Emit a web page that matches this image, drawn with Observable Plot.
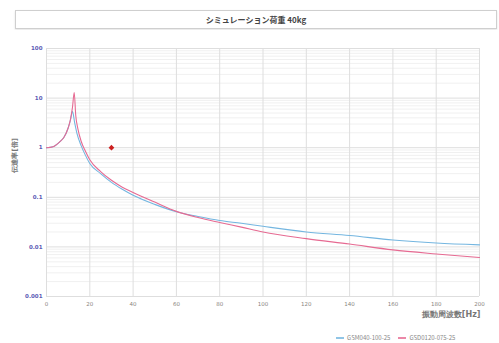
<!DOCTYPE html>
<html><head><meta charset="utf-8">
<script src="https://cdn.jsdelivr.net/npm/d3@7"></script>
<script src="https://cdn.jsdelivr.net/npm/@observablehq/plot@0.6"></script>
<style>
body{margin:0;background:#fff;font-family:"Noto Sans CJK JP","Noto Sans",sans-serif;}
#wrap{position:relative;width:499px;height:343px;overflow:hidden;}
#title{position:absolute;left:15px;top:10px;width:480px;height:17px;border:1px solid #cfcfcf;box-shadow:0 1px 2px #e4e4e4;text-align:center;font-size:8px;line-height:17px;color:#444;font-weight:bold;}
#chart{position:absolute;left:0;top:30px;}
#legend{position:absolute;left:336px;top:334px;font-size:6px;color:#888;white-space:nowrap;line-height:8px;}
#legend svg{vertical-align:middle;margin-right:3px;}
</style></head>
<body><div id="wrap">
<div id="title">シミュレーション荷重 40kg</div>
<div id="chart"></div>
<div id="legend"></div>
</div>
<script>
const seriesNames = ["GSM040-100-25", "GSD0120-075-25"];
const seriesColors = ["#74b6e0", "#e66a92"];
const blueF = [0,3,6,8,10,11,12,13,14,16,18,20,25,30,35,40,50,60,70,80,90,100,120,140,160,180,200];
const blueT = [1.0,1.05,1.3,1.6,2.5,3.5,5.4,3.2,2.0,1.1,0.7,0.48,0.3,0.2,0.145,0.11,0.072,0.051,0.041,0.034,0.03,0.026,0.02,0.017,0.0138,0.012,0.011];
const pinkF = [0,3,6,8,10,11,12,12.8,13.5,14.5,16,18,20,25,30,35,40,50,60,70,80,90,100,120,140,160,180,200];
const pinkT = [1.0,1.05,1.3,1.6,2.5,3.6,6.5,13,4.5,2.4,1.35,0.85,0.57,0.33,0.22,0.16,0.125,0.08,0.052,0.039,0.031,0.025,0.02,0.0147,0.0114,0.0087,0.0072,0.0061];
const markerF = [30];
const markerT = [1];
const xTicks = [0,20,40,60,80,100,120,140,160,180,200];
const yTicks = [0.001,0.01,0.1,1,10,100];
const yTickLabels = ["0.001","0.01","0.1","1","10","100"];
const xLabel = "振動周波数[Hz]";
const yLabel = "伝達率[倍]";

const blue = blueF.map((f,i)=>({f, t: blueT[i]}));
const pink = pinkF.map((f,i)=>({f, t: pinkT[i]}));
const marker = markerF.map((f,i)=>({f, t: markerT[i]}));
const minorY = [];
for (let d = 0; d < yTicks.length - 1; d++) for (let k = 2; k < 10; k++) minorY.push(yTicks[d]*k);

const plot = Plot.plot({
  width: 499, height: 300,
  marginLeft: 46, marginRight: 20, marginTop: 18, marginBottom: 34,
  style: {fontFamily: "DejaVu Sans, sans-serif", background: "#fff"},
  x: {domain: [0,200]},
  y: {type: "log", domain: [0.001,100]},
  marks: [
    Plot.ruleY(minorY, {stroke: "#ececec", strokeWidth: 0.8}),
    Plot.ruleY(yTicks, {stroke: "#dedede", strokeWidth: 1}),
    Plot.ruleX(xTicks, {stroke: "#dedede", strokeWidth: 1}),
    Plot.axisY(yTicks, {tickFormat: (d)=>yTickLabels[yTicks.indexOf(d)], tickSize: 0, tickPadding: 4, fontSize: 5.5, fontWeight: "bold", fill: "#5b5bb5", label: null}),
    Plot.axisX(xTicks, {tickSize: 0, tickPadding: 6, fontSize: 5.5, fill: "#8a8580", label: null}),
    Plot.line(blue, {x: "f", y: "t", stroke: seriesColors[0], strokeWidth: 1.1, curve: "monotone-x"}),
    Plot.line(pink, {x: "f", y: "t", stroke: seriesColors[1], strokeWidth: 1.1, curve: "monotone-x"}),
    Plot.dot(marker, {x: "f", y: "t", symbol: "diamond2", r: 2.6, fill: "#cc2020", stroke: "none"}),
    Plot.text([xLabel], {frameAnchor: "bottom-right", dy: 20, dx: 1, textAnchor: "end", fontSize: 8, fontWeight: "bold", fill: "#777"}),
    Plot.text([yLabel], {frameAnchor: "left", dx: -32, rotate: -90, fontSize: 7, fontWeight: "bold", fill: "#777"})
  ]
});
document.getElementById("chart").appendChild(plot);

const leg = document.getElementById("legend");
seriesNames.forEach((n,i)=>{
  const s = document.createElement("span");
  s.style.marginRight = "8px";
  s.innerHTML = `<svg width="8" height="4"><line x1="0" y1="2" x2="8" y2="2" stroke="${seriesColors[i]}" stroke-width="1.6"/></svg>${n}`;
  leg.appendChild(s);
});
</script>
</body></html>
